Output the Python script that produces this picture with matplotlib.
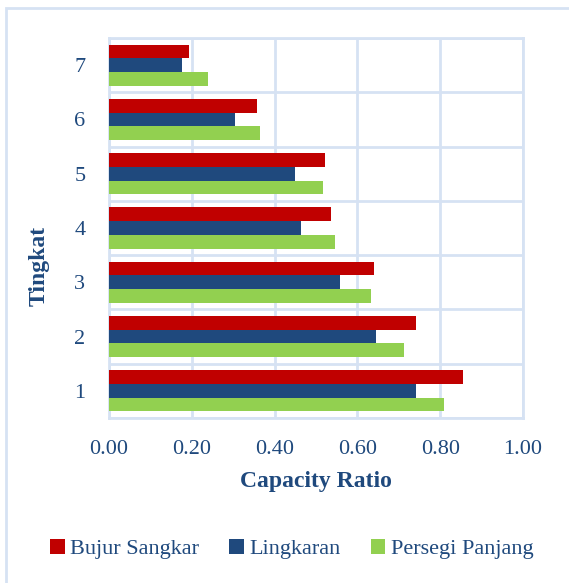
import numpy as np
import matplotlib.pyplot as plt
from matplotlib.patches import Rectangle

# capacity ratio per floor level
tingkat = ['1', '2', '3', '4', '5', '6', '7']
bujur_sangkar = [0.854, 0.741, 0.639, 0.537, 0.521, 0.357, 0.193]
lingkaran = [0.741, 0.644, 0.557, 0.464, 0.449, 0.304, 0.177]
persegi_panjang = [0.810, 0.712, 0.633, 0.545, 0.516, 0.364, 0.238]
xticks = [0.0, 0.2, 0.4, 0.6, 0.8, 1.0]

plt.rcParams['font.family'] = ['Liberation Serif', 'DejaVu Serif']
txt = '#1F497D'
grid = '#D6E2F3'

fig = plt.figure(figsize=(5.69, 5.83), dpi=100, facecolor='white')
ax = fig.add_axes([109/569, 1-418/583, 414/569, 380/583])

y = np.arange(len(tingkat))
h = 0.252
ax.barh(y + h, bujur_sangkar, height=h, color='#C00000', label='Bujur Sangkar', zorder=3)
ax.barh(y, lingkaran, height=h, color='#1F497D', label='Lingkaran', zorder=3)
ax.barh(y - h, persegi_panjang, height=h, color='#92D050', label='Persegi Panjang', zorder=3)

ax.set_xlim(0, 1.0)
ax.set_ylim(-0.5, len(tingkat) - 0.5)
ax.set_xticks(xticks)
ax.set_xticklabels(['%.2f' % v for v in xticks], fontsize=16, color=txt)
ax.set_yticks(y)
ax.set_yticklabels(tingkat, fontsize=16, color=txt)
ax.set_yticks(np.arange(len(tingkat) + 1) - 0.5, minor=True)
ax.tick_params(which='both', length=0)
ax.tick_params(axis='x', pad=16)
ax.tick_params(axis='y', pad=17)
ax.grid(axis='x', color=grid, lw=2, zorder=0)
ax.grid(axis='y', which='minor', color=grid, lw=2, zorder=0)
for s in ax.spines.values():
    s.set_color(grid)
    s.set_linewidth(2)

ax.set_xlabel('Capacity Ratio', fontsize=17, fontweight='bold', color=txt)
ax.xaxis.set_label_coords(0.5, -(482 - 418) / 380, transform=ax.transAxes)
ax.xaxis.label.set_va('center')
ax.set_ylabel('Tingkat', fontsize=17, fontweight='bold', color=txt)
ax.yaxis.set_label_coords(-(109 - 39) / 414, (418 - 266) / 380)
ax.yaxis.label.set_va('center')

leg = fig.legend(loc='center', bbox_to_anchor=(0.513, 1-549/583), ncol=3, frameon=False,
                 fontsize=16, handlelength=0.65, handleheight=0.65, handletextpad=0.25,
                 columnspacing=1.35)
for t in leg.get_texts():
    t.set_color(txt)

# light border round the chart (runs off the right and bottom edges)
fig.patches.append(Rectangle((6/569, -0.01), 1.0, 1 - 8/583 + 0.01, transform=fig.transFigure,
                             fill=False, edgecolor=grid, lw=2))

fig.savefig('out.png', dpi=100, facecolor='white')
